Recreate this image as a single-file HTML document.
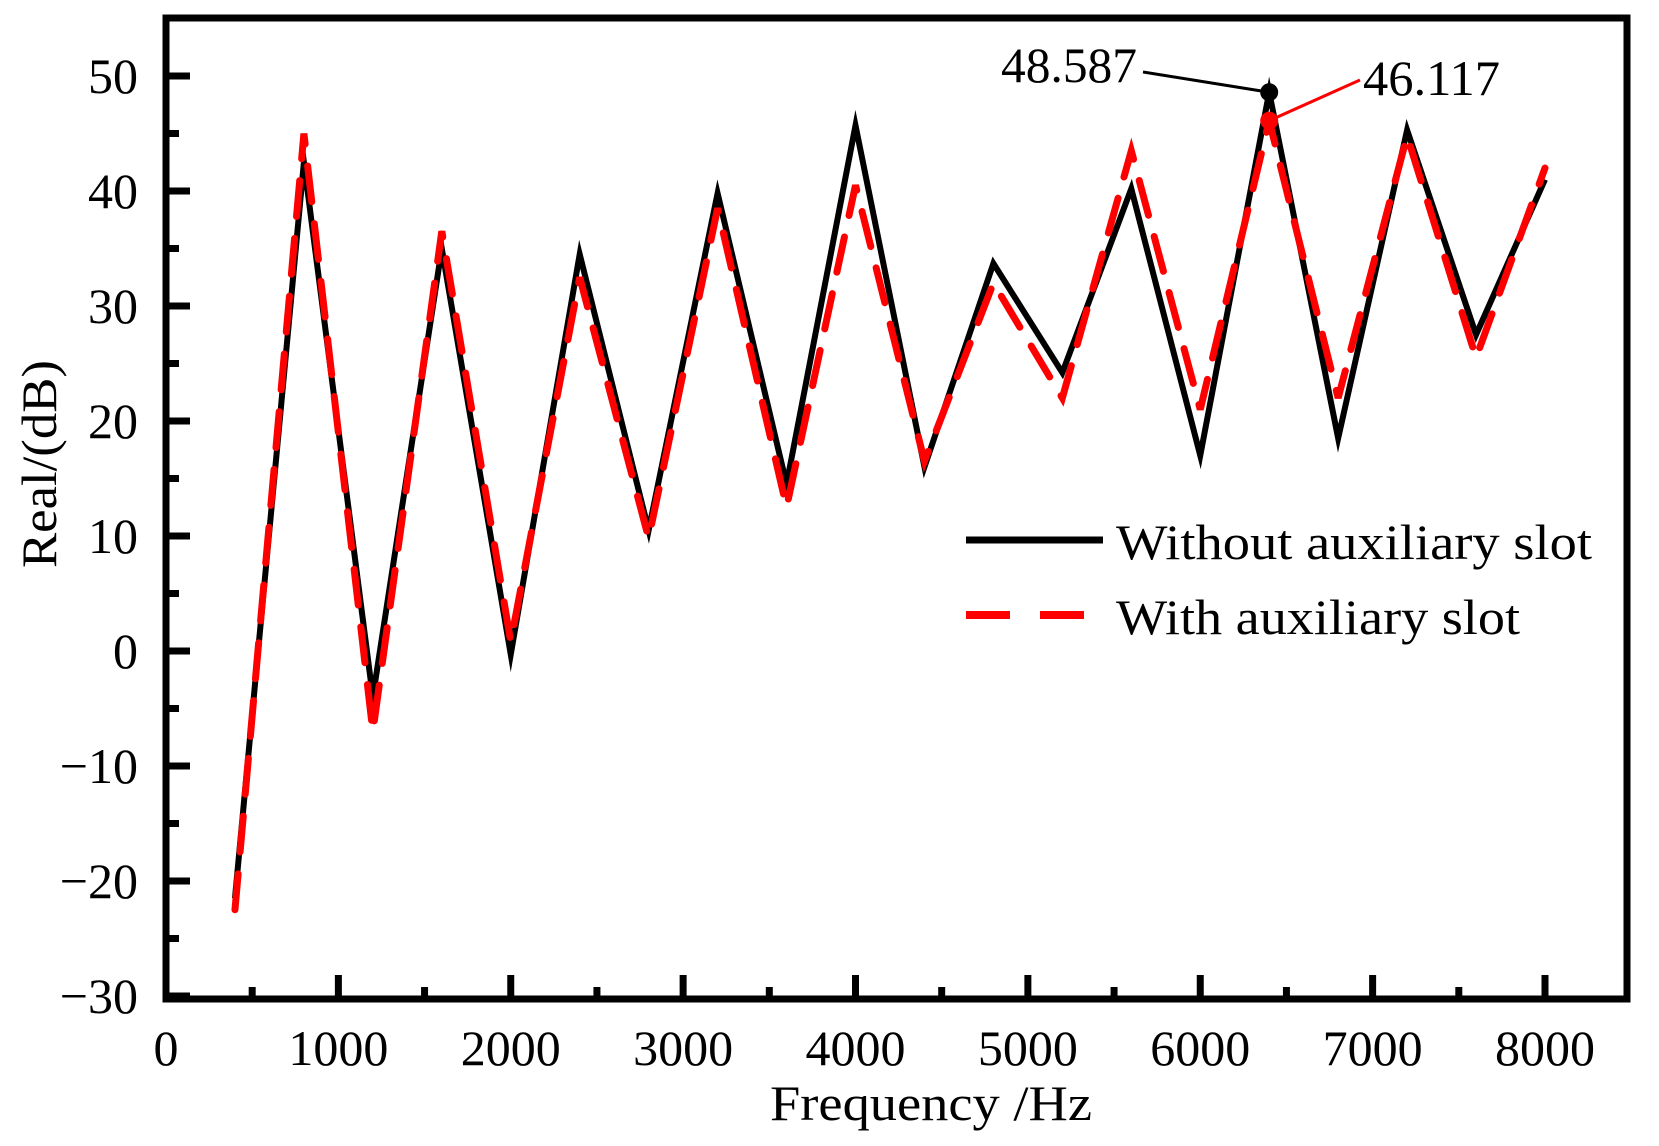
<!DOCTYPE html>
<html><head><meta charset="utf-8">
<style>html,body{margin:0;padding:0;background:#fff}svg{display:block}text{font-family:"Liberation Serif",serif;fill:#000}</style>
</head><body>
<svg id="chart" width="1659" height="1146" viewBox="0 0 1659 1146" xmlns="http://www.w3.org/2000/svg">
<g id="grid"></g>
<g id="series"></g>
<rect x="166" y="18" width="1461" height="981" fill="none" stroke="#000" stroke-width="7"/>
<g id="axes"></g>
<text transform="translate(56,464) rotate(-90)" text-anchor="middle" font-size="50" textLength="208" lengthAdjust="spacingAndGlyphs">Real/(dB)</text>
<text x="931" y="1120" text-anchor="middle" font-size="50" textLength="322" lengthAdjust="spacingAndGlyphs">Frequency /Hz</text>
<g>
<line x1="966" y1="540" x2="1103" y2="540" stroke="#000" stroke-width="7"/>
<text x="1116" y="559" font-size="50" textLength="476" lengthAdjust="spacingAndGlyphs">Without auxiliary slot</text>
<line x1="966" y1="615" x2="1103" y2="615" stroke="#f00" stroke-width="8" stroke-dasharray="44,30"/>
<text x="1116" y="634" font-size="50" textLength="404" lengthAdjust="spacingAndGlyphs">With auxiliary slot</text>
</g>
<g id="annot"></g>
</svg>
<script>
const freqs=[400,800,1200,1600,2000,2400,2800,3200,3600,4000,4400,4800,5200,5600,6000,6400,6800,7200,7600,8000];
const withoutSlot=[-21.5,42.5,-4,35,-0.3,34.5,10.5,39.8,14.5,45.7,16,33.7,24.2,40.2,17,48.587,18.5,45.3,27.5,41];
const withSlot=[-22.5,45,-7,36.5,0.8,32.5,9.8,38.5,12.5,40.5,16.5,32,22,43.5,21,46.117,22,44.8,25.5,42];
const xTicks=[0,1000,2000,3000,4000,5000,6000,7000,8000];
const yTicks=[-30,-20,-10,0,10,20,30,40,50];
const NS="http://www.w3.org/2000/svg";
function X(v){return 166+v*(1545-166)/8000;}
function Y(v){return 76+(50-v)*(996-76)/80;}
function mk(tag,attrs,parent){const e=document.createElementNS(NS,tag);for(const k in attrs)e.setAttribute(k,attrs[k]);parent.appendChild(e);return e;}
const axes=document.getElementById('axes');
xTicks.forEach((t,i)=>{
 const l=mk('line',{x1:X(t),x2:X(t),y1:999,y2:975,stroke:'#000','stroke-width':7},axes);
 
 
 if(i<xTicks.length-1){const m=mk('line',{x1:X(t+500),x2:X(t+500),y1:999,y2:987,stroke:'#000','stroke-width':7},axes);
 
 }
 const tx=mk('text',{x:X(t),y:1065,'text-anchor':'middle','font-size':50},axes);
 
 
 tx.textContent=t;
});
yTicks.forEach((t,i)=>{
 const l=mk('line',{x1:166,x2:190,y1:Y(t),y2:Y(t),stroke:'#000','stroke-width':7},axes);
 
 
 if(i<yTicks.length-1){const m=mk('line',{x1:166,x2:179,y1:Y(t+5),y2:Y(t+5),stroke:'#000','stroke-width':7},axes);
 
 }
 const tx=mk('text',{x:138,y:Y(t)+17,'text-anchor':'end','font-size':50},axes);
 
 
 tx.textContent=t<0?'\u2212'+Math.abs(t):t;
});
const sg=document.getElementById('series');
const p1=mk('polyline',{points:freqs.map((f,i)=>X(f)+','+Y(withoutSlot[i])).join(' '),fill:'none',stroke:'#000','stroke-width':6,'stroke-linejoin':'miter','stroke-miterlimit':20},sg);


const p2=mk('polyline',{points:freqs.map((f,i)=>X(f)+','+Y(withSlot[i])).join(' '),fill:'none',stroke:'#f00','stroke-width':7,'stroke-dasharray':'36,22','stroke-linecap':'round'},sg);


const an=document.getElementById('annot');
const pk=15;
const bx=X(freqs[pk]),by=Y(withoutSlot[pk]),ry=Y(withSlot[pk]);
const l1=mk('line',{x1:1143,y1:72,x2:bx,y2:by,stroke:'#000','stroke-width':3},an);


const d1=mk('circle',{cx:bx,cy:by,r:9,fill:'#000'},an);


const l2=mk('line',{x1:1360,y1:80,x2:bx,y2:ry,stroke:'#f00','stroke-width':3},an);


const d2=mk('circle',{cx:bx,cy:ry,r:9,fill:'#f00'},an);


const t1=mk('text',{x:1001,y:82,'font-size':50,textLength:136,lengthAdjust:'spacingAndGlyphs'},an);


t1.textContent=withoutSlot[pk].toFixed(3);
const t2=mk('text',{x:1363,y:95,'font-size':50,textLength:137,lengthAdjust:'spacingAndGlyphs'},an);


t2.textContent=withSlot[pk].toFixed(3);
</script>
</body></html>
